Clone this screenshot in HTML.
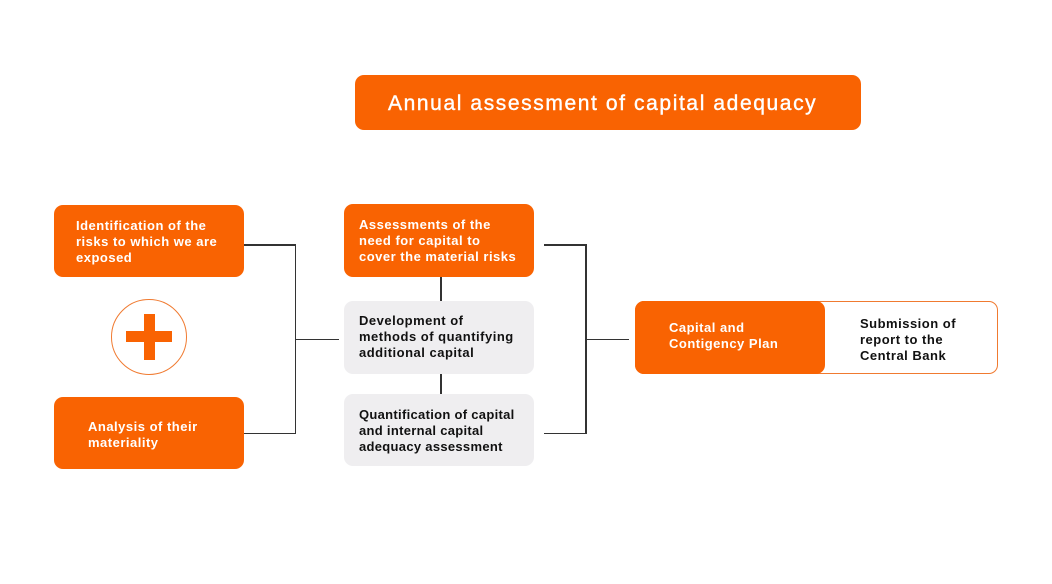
<!DOCTYPE html>
<html><head><meta charset="utf-8"><style>
body{margin:0;width:1052px;height:584px;background:#fff;position:relative;overflow:hidden;font-family:"Liberation Sans",sans-serif;}
.b{position:absolute;box-sizing:border-box;border-radius:9px;font-size:13px;line-height:16px;font-weight:bold;letter-spacing:0.5px;}
.o{background:#f96302;color:#fff;}
.g{background:#efeef0;color:#111;}
.t{position:absolute;white-space:nowrap;}
.l{position:absolute;background:#333;}
</style></head><body>
<div class="b o" style="left:355px;top:75px;width:506px;height:55px;font-size:21px;font-weight:normal;line-height:55px;letter-spacing:1.6px;-webkit-text-stroke:0.4px #fff;"><div class="t" style="left:33px;top:1px;">Annual assessment of capital adequacy</div></div>

<div class="b o" style="left:54px;top:205px;width:190px;height:72px;"><div class="t" style="left:22px;top:13px;">Identification of the<br>risks to which we are<br>exposed</div></div>
<div class="b o" style="left:54px;top:397px;width:190px;height:72px;"><div class="t" style="left:34px;top:22px;">Analysis of their<br>materiality</div></div>

<div style="position:absolute;left:111px;top:299px;width:74px;height:74px;border:1.5px solid #f07a30;border-radius:50%;"></div>
<div style="position:absolute;left:126px;top:331px;width:46px;height:11px;background:#f96302;"></div>
<div style="position:absolute;left:144px;top:314px;width:11px;height:46px;background:#f96302;"></div>

<div class="b o" style="left:344px;top:204px;width:190px;height:73px;"><div class="t" style="left:15px;top:13px;">Assessments of the<br>need for capital to<br>cover the material risks</div></div>
<div class="b g" style="left:344px;top:301px;width:190px;height:73px;"><div class="t" style="left:15px;top:12px;">Development of<br>methods of quantifying<br>additional capital</div></div>
<div class="b g" style="left:344px;top:394px;width:190px;height:72px;"><div class="t" style="left:15px;top:13px;letter-spacing:0.3px;">Quantification of capital<br>and internal capital<br>adequacy assessment</div></div>

<div class="b" style="left:635px;top:301px;width:363px;height:73px;border:1.5px solid #f07a30;"><div class="t" style="left:224px;top:14px;color:#111;">Submission of<br>report to the<br>Central Bank</div></div>
<div class="b o" style="left:635px;top:301px;width:190px;height:73px;"><div class="t" style="left:34px;top:19px;">Capital and<br>Contigency Plan</div></div>

<div class="l" style="left:244px;top:244px;width:52px;height:1.5px;"></div>
<div class="l" style="left:294.5px;top:244px;width:1.5px;height:190px;"></div>
<div class="l" style="left:244px;top:432.5px;width:52px;height:1.5px;"></div>
<div class="l" style="left:295px;top:338.5px;width:44px;height:1.5px;"></div>
<div class="l" style="left:440px;top:277px;width:1.5px;height:24px;"></div>
<div class="l" style="left:440px;top:374px;width:1.5px;height:20px;"></div>
<div class="l" style="left:544px;top:244px;width:42px;height:1.5px;"></div>
<div class="l" style="left:585px;top:244px;width:1.5px;height:190px;"></div>
<div class="l" style="left:544px;top:432.5px;width:42px;height:1.5px;"></div>
<div class="l" style="left:586px;top:338.5px;width:43px;height:1.5px;"></div>
</body></html>
